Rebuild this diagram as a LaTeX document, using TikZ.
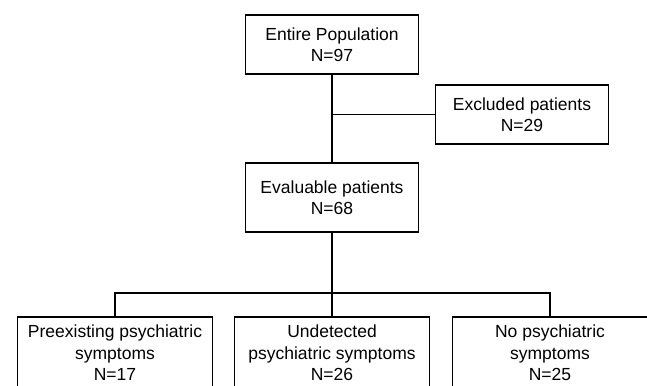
\documentclass[tikz,border=0pt]{standalone}
\usepackage{fontspec}
\setmainfont{Liberation Sans}
\usetikzlibrary{calc}

\begin{document}
\begin{tikzpicture}[x=1pt,y=-1pt,
	box/.style={draw,line width=1.8pt,align=center,inner sep=0pt,
		font=\fontsize{17.5}{21.5}\selectfont,minimum width=173pt,minimum height=59pt},
	leaf/.style={box,anchor=north,minimum width=195pt,minimum height=72pt}]
	\fill[white] (0,0) rectangle (647,385);
	\useasboundingbox (0,0) rectangle (647,385);

	\coordinate (c1) at (332,44.5);
	\coordinate (c2) at (522,114.5);
	\coordinate (c3) at (332,197.5);
	\coordinate (bus) at (332,293);

	%upper part
	\node[box] (entire) at (c1) {Entire Population\\N=97};
	\node[box] (excluded) at (c2) {Excluded patients\\N=29};
	\node[box,minimum height=69pt] (evaluable) at (c3) {Evaluable patients\\N=68};

	\draw[line width=1.8pt] (entire.south) -- (evaluable.north);
	\draw[line width=1.8pt] (excluded.west) -- (excluded.west -| entire.south);

	%groups
	\node[leaf] (pre) at (115,316) {Preexisting psychiatric\\symptoms\\N=17};
	\node[leaf] (undet) at (332,316) {Undetected\\psychiatric symptoms\\N=26};
	\node[leaf] (nopsy) at (550,316) {No psychiatric\\symptoms\\N=25};

	\draw[line width=1.8pt] (evaluable.south) -- (bus) -- (undet.north);
	\draw[line width=1.8pt] (pre.north) |- (bus) -| (nopsy.north);
\end{tikzpicture}
\end{document}
